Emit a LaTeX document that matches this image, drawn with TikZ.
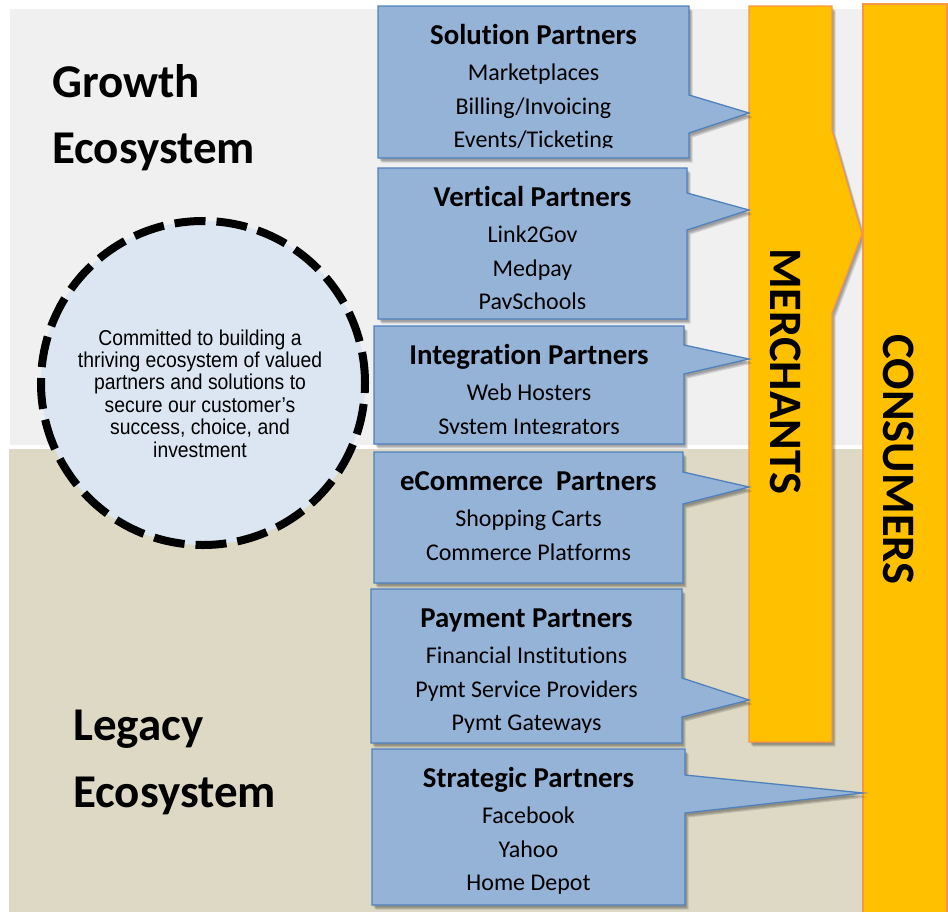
\documentclass[tikz,border=0pt]{standalone}
\usepackage{fontspec}
\setmainfont{Carlito}[Ligatures=NoCommon]
\newfontfamily\narrowfont[FakeStretch=0.9]{Liberation Sans}

\definecolor{greybg}{HTML}{F0F0F0}
\definecolor{beigebg}{HTML}{DDD9C4}
\definecolor{calloutblue}{HTML}{95B3D7}
\definecolor{calloutedge}{HTML}{4F81BD}
\definecolor{circlefill}{HTML}{DCE6F2}
\definecolor{barorange}{HTML}{FFC000}
\definecolor{baredge}{HTML}{F79646}

\tikzset{
  partner/.style={fill=calloutblue, draw=calloutedge, line width=1.3bp, line join=miter},
  softshade/.style={fill=black, opacity=0.13},
  orangebar/.style={fill=barorange, draw=baredge, line width=1.3bp},
  ptitle/.style={font=\fontsize{28.8bp}{30bp}\selectfont\bfseries, anchor=base, inner sep=0},
  pitem/.style={font=\fontsize{24bp}{26bp}\selectfont, anchor=base, inner sep=0},
  eco/.style={font=\fontsize{47bp}{50bp}\selectfont\bfseries, anchor=base west, inner sep=0},
  missionline/.style={font=\narrowfont\fontsize{21.5bp}{22bp}\selectfont, anchor=base, inner sep=0},
  barlabel/.style={font=\fontsize{46.5bp}{48bp}\selectfont\bfseries, inner sep=0, rotate=-90},
}

% callout outline with a soft drop shadow: left, top, right, bottom, pointer start, pointer end, tip
\newcommand\partnershape[7]{%
  \foreach \d in {1.5,2.5,3.5}{%
    \begin{scope}[shift={(\d,\d+1)}]
      \fill[softshade] (#1,#2) -- (#3,#2) -- (#3,#5) -- (#7) -- (#3,#6) -- (#3,#4) -- (#1,#4) -- cycle;
    \end{scope}
  }
  \path[partner] (#1,#2) -- (#3,#2) -- (#3,#5) -- (#7) -- (#3,#6) -- (#3,#4) -- (#1,#4) -- cycle;
}

% title and entries of a callout, cut off a little above its lower edge
\newcommand\partnertext[7]{%
  \begin{scope}
    \clip (#2,#3) rectangle (#4,#5-11);
    \node[ptitle] (#1-title) at ({(#2+#4)/2},#3+38.5) {#6};
    \foreach \entry [count=\k] in {#7}{%
      \node[pitem] (#1-\k) at ({(#2+#4)/2},{#3+74.5+33.5*(\k-1)}) {\entry};
    }
  \end{scope}
}

\begin{document}
\begin{tikzpicture}[x=1bp,y=-1bp]
\useasboundingbox (0,0) rectangle (948,912);

% the two ecosystem bands
\fill[greybg] (10,9) rectangle (948,445);
\fill[beigebg] (9,449) rectangle (948,912);

\node[eco] (growth1) at (52,97) {Growth};
\node[eco] (growth2) at (52,163) {Ecosystem};
\node[eco] (legacy1) at (73,740) {Legacy};
\node[eco] (legacy2) at (73,807) {Ecosystem};

% mission statement
\node[circle, minimum size=324bp, inner sep=0, fill=circlefill, draw=black,
      line width=8bp, dash pattern=on 31bp off 11bp] (mission) at (203,383) {};
\foreach \line [count=\k] in {Committed to building a, thriving ecosystem of valued,
    partners and solutions to, secure our customer’s, {success, choice, and}, investment}{%
  \node[missionline] (mission-\k) at (200,{345+22.4*(\k-1)}) {\line};
}

% merchants and consumers
\foreach \d in {1.5,2.5,3.5}{%
  \begin{scope}[shift={(\d,\d+1)}]
    \fill[softshade] (749,6) -- (832,6) -- (832,130) -- (862,234) -- (832,313) -- (832,742) -- (749,742) -- cycle;
  \end{scope}
}
\path[orangebar] (749,6) -- (832,6) -- (832,130) -- (862,234) -- (832,313) -- (832,742) -- (749,742) -- cycle;
\node[barlabel] (merchants) at (786,371.5) {MERCHANTS};
\path[orangebar] (863,4) rectangle (947,918);
\node[barlabel] (consumers) at (898.5,459.5) {CONSUMERS};

% partner callouts
\partnershape{378}{6}{689}{158}{95}{133}{749,113}
\partnertext{solution}{378}{6}{689}{158}{Solution Partners}{Marketplaces,Billing/Invoicing,Events/Ticketing}

\partnershape{378}{168}{687}{319}{193}{230}{749,210}
\partnertext{vertical}{378}{168}{687}{319}{Vertical Partners}{Link2Gov,Medpay,PaySchools}

\partnershape{374}{326}{684}{444}{345}{374}{749,359}
\partnertext{integration}{374}{326}{684}{444}{Integration Partners}{Web Hosters,System Integrators}

\partnershape{374}{452}{683}{583}{472}{504}{749,487}
\partnertext{ecommerce}{374}{452}{683}{583}{eCommerce\ \ Partners}{Shopping Carts,Commerce Platforms}

\partnershape{371}{589}{682}{743}{678}{717}{749,700}
\partnertext{payment}{371}{589}{682}{743}{Payment Partners}{Financial Institutions,Pymt Service Providers,Pymt Gateways}

\partnershape{372}{749}{685}{905}{775}{813}{863,793}
\partnertext{strategic}{372}{749}{685}{905}{Strategic Partners}{Facebook,Yahoo,Home Depot}

\end{tikzpicture}
\end{document}
